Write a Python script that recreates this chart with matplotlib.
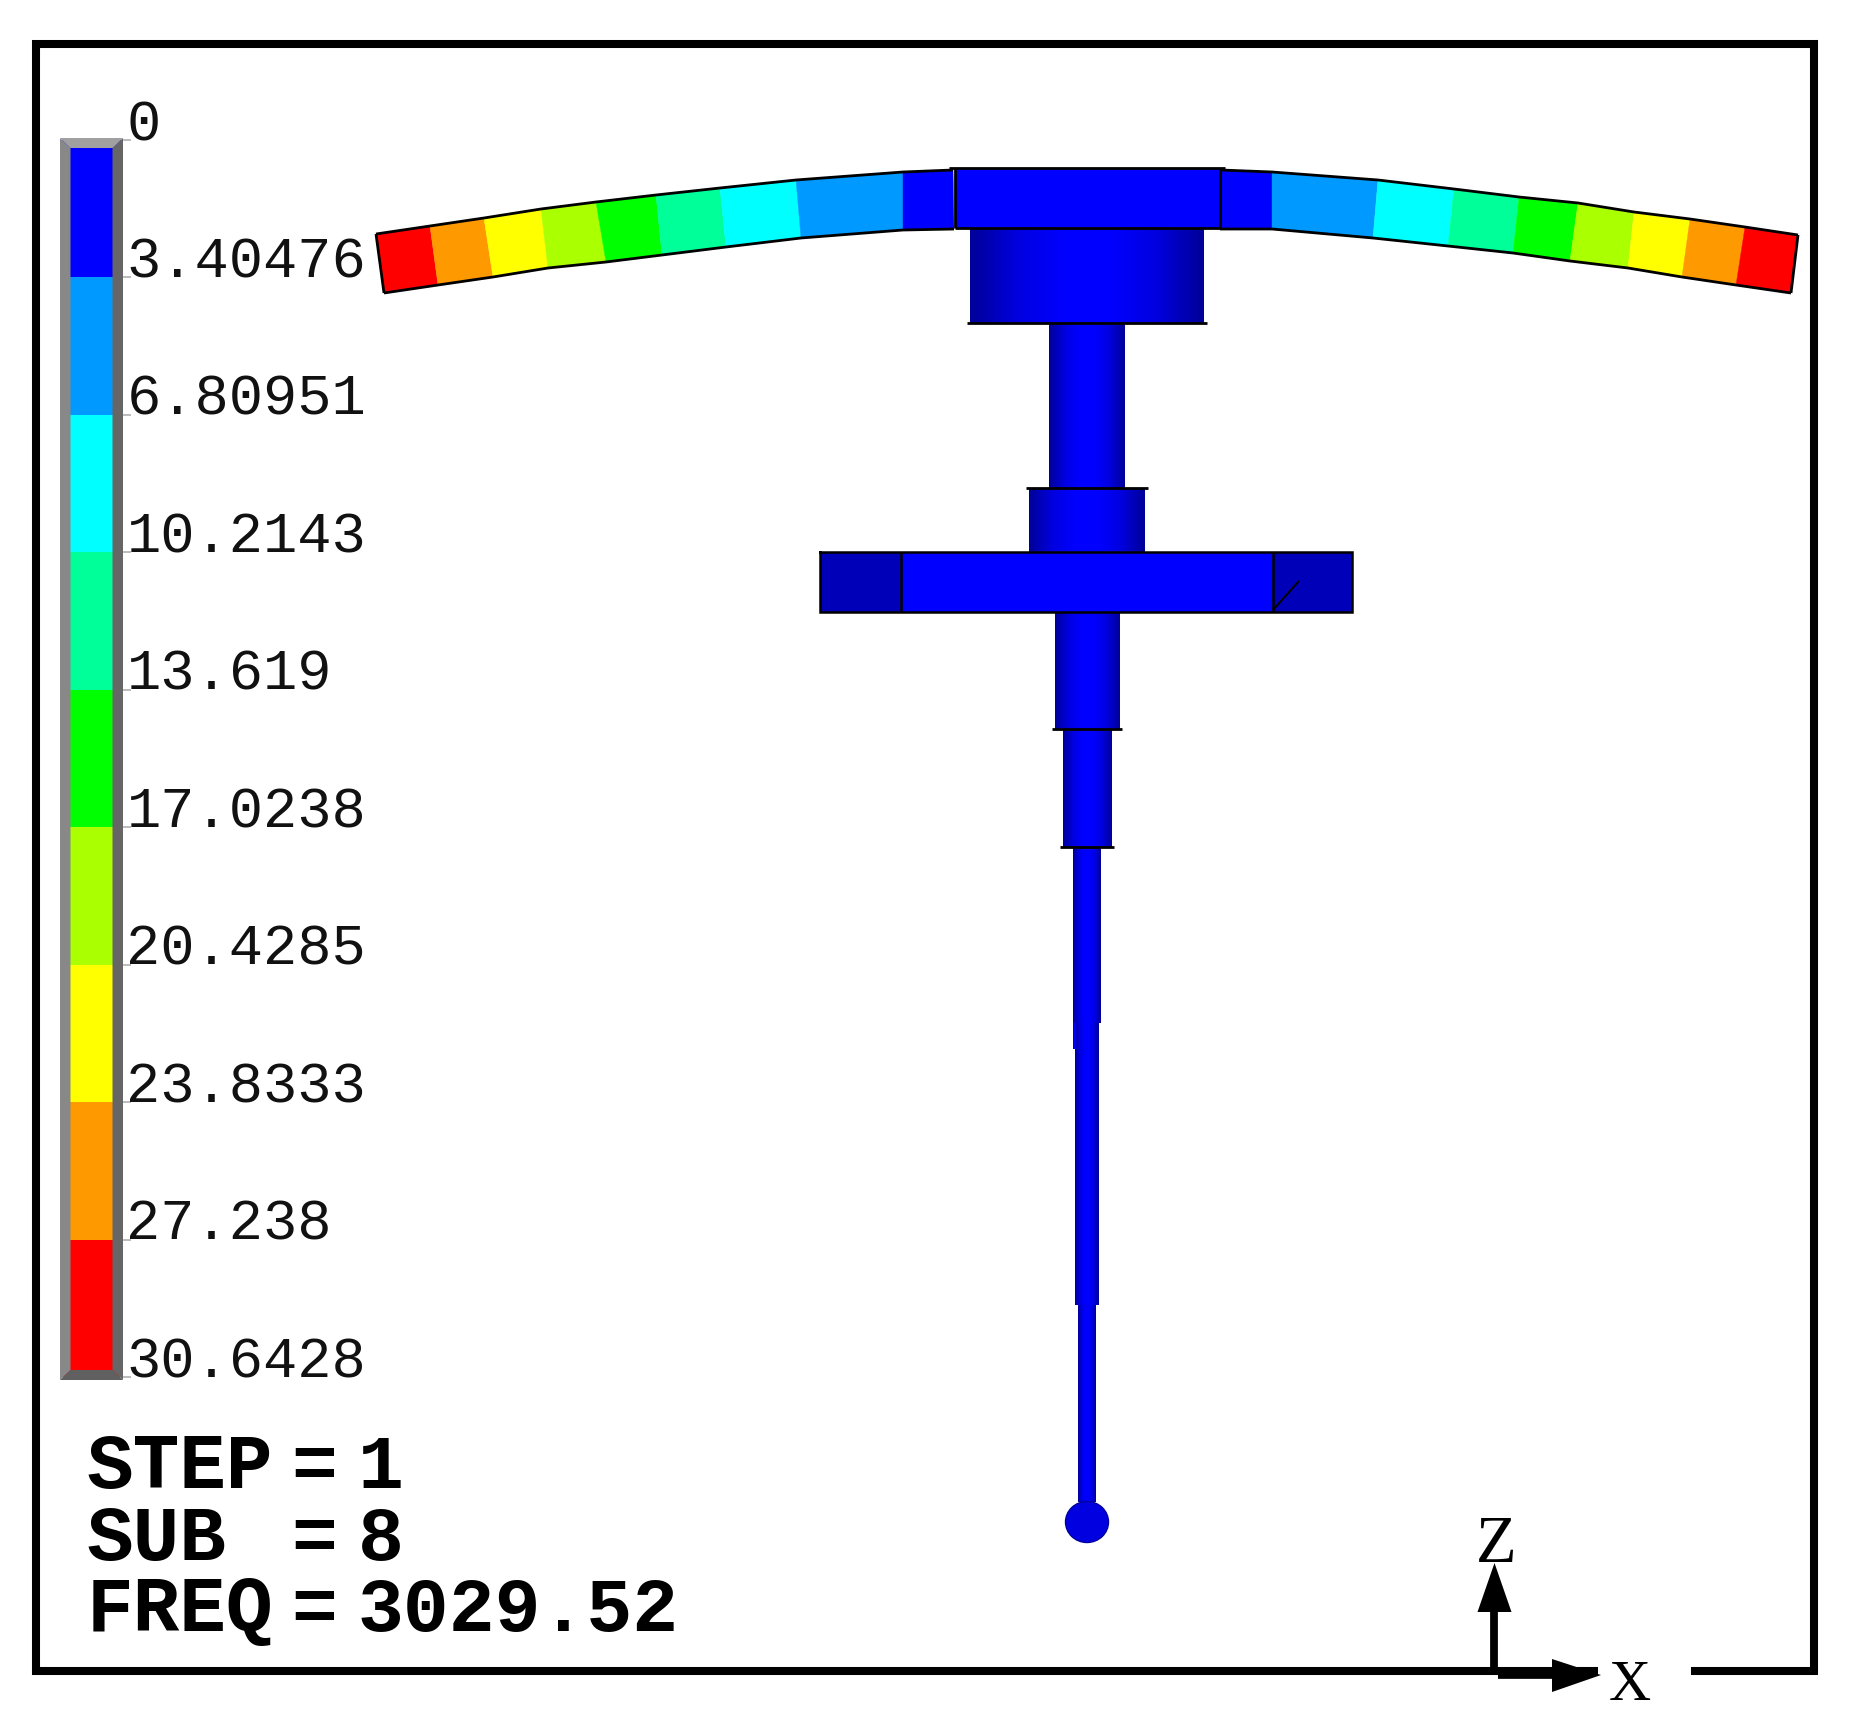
import numpy as np
import matplotlib
matplotlib.use("Agg")
import matplotlib.pyplot as plt
from matplotlib.colors import LinearSegmentedColormap
from matplotlib.patches import Polygon, Ellipse

W, H, DPI = 1856, 1736, 100

# ---- colour scale ----
levels = [0, 3.40476, 6.80951, 10.2143, 13.619, 17.0238, 20.4285, 23.8333, 27.238, 30.6428]
level_labels = ["0", "3.40476", "6.80951", "10.2143", "13.619", "17.0238",
                "20.4285", "23.8333", "27.238", "30.6428"]
band_colors = ["#0000ff", "#0099ff", "#00ffff", "#00ff99", "#00ff00",
               "#aaff00", "#ffff00", "#ff9900", "#ff0000"]

# ---- curved beam: band boundaries ----
left_top_x = [376, 430, 484, 541, 596, 656, 720, 796, 903, 953]
left_top_y = [234, 226, 218, 209, 202, 195, 188, 180, 172, 170]
left_bot_x = [384, 438, 493, 548, 606, 662, 726, 801, 903, 954]
left_bot_y = [293, 285, 277, 268, 262, 255, 247, 238, 230, 229]
left_bands = [8, 7, 6, 5, 4, 3, 2, 1, 0]

right_top_x = [1221, 1272, 1378, 1454, 1519, 1578, 1634, 1690, 1745, 1798]
right_top_y = [170, 172, 180, 189, 197, 203, 212, 219, 227, 235]
right_bot_x = [1220, 1272, 1373, 1448, 1513, 1570, 1628, 1682, 1736, 1791]
right_bot_y = [229, 229, 238, 246, 253, 261, 268, 277, 285, 293]
right_bands = [0, 1, 2, 3, 4, 5, 6, 7, 8]

# ---- stylus: x-left, x-right, y-top, y-bottom of each stepped cylinder ----
cyl_names = ["boss", "shaft_a", "collar", "shaft_b", "shaft_c", "stem_b", "stem_a", "stem_a_sliver", "stem_c"]
cyl_x0 = [970, 1049, 1029, 1055, 1063, 1075, 1073, 1073, 1078]
cyl_x1 = [1204, 1125, 1145, 1120, 1112, 1099, 1101, 1077, 1096]
cyl_y0 = [228, 323, 488, 613, 729, 1020, 847, 1023, 1305]
cyl_y1 = [323, 488, 552, 729, 847, 1305, 1023, 1049, 1502]

lip_x0 = [967, 1026, 1052, 1060]
lip_x1 = [1207, 1148, 1122, 1114]
lip_y = [323, 488, 729, 847]

ball_x, ball_y, ball_w, ball_h = 1087, 1522, 43, 41

# ---- annotation ----
info_names = ["STEP", "SUB", "FREQ"]
info_values = ["1", "8", "3029.52"]
info_base = [1488, 1560, 1631]

plt.rcParams["font.family"] = ["Liberation Mono", "DejaVu Sans Mono"]
fig = plt.figure(figsize=(W / DPI, H / DPI), dpi=DPI, facecolor="white")


def px_axes(x0, y0, x1, y1):
    return [x0 / W, 1 - y1 / H, (x1 - x0) / W, (y1 - y0) / H]


# colour bar on its own value scale
cb_top, cb_bot = 140, 1377
cax = fig.add_axes(px_axes(60, cb_top, 123, cb_bot), zorder=1)
cax.set_xlim(60, 123)
cax.set_ylim(levels[-1], levels[0])
for i, c in enumerate(band_colors):
    cax.bar(91.5, levels[i + 1] - levels[i], bottom=levels[i], width=63, color=c, linewidth=0)
cax.set_xticks([])
cax.yaxis.tick_right()
cax.set_yticks(levels)
cax.set_yticklabels(level_labels)
cax.tick_params(axis="y", length=6, width=1.2, color="#b0b0b0", pad=-3.5, labelsize=41, labelcolor="#111111")
for lab in cax.get_yticklabels():
    lab.set_verticalalignment("baseline")
for s in cax.spines.values():
    s.set_visible(False)

# main drawing surface in picture coordinates
ax = fig.add_axes([0, 0, 1, 1], zorder=2)
ax.set_xlim(0, W)
ax.set_ylim(H, 0)
ax.axis("off")
ax.patch.set_alpha(0)

# bevel of the colour bar
ox0, ox1, oy0, oy1 = 60, 123, 138, 1380
ix0, ix1, iy0, iy1 = 70.5, 112.5, 148, 1370
ax.add_patch(Polygon([(ox0, oy0), (ix0, iy0), (ix0, iy1), (ox0, oy1)], fc="#888888", ec="none"))
ax.add_patch(Polygon([(ox1, oy0), (ix1, iy0), (ix1, iy1), (ox1, oy1)], fc="#666666", ec="none"))
ax.add_patch(Polygon([(ox0, oy0), (ox1, oy0), (ix1, iy0), (ix0, iy0)], fc="#a0a0a0", ec="none"))
ax.add_patch(Polygon([(ox0, oy1), (ox1, oy1), (ix1, iy1), (ix0, iy1)], fc="#606060", ec="none"))


def edge(xs, ys, lw=2.0, z=4):
    ax.plot(xs, ys, color="black", lw=lw, solid_capstyle="butt", zorder=z)


def draw_beam(tx, ty, bx, by, bands):
    for i, b in enumerate(bands):
        ax.add_patch(Polygon([(tx[i], ty[i]), (tx[i + 1], ty[i + 1]),
                              (bx[i + 1], by[i + 1]), (bx[i], by[i])],
                             fc=band_colors[b], ec=band_colors[b], lw=0.3, zorder=2))
    edge(tx, ty, z=3)
    edge(bx, by, z=3)


draw_beam(left_top_x, left_top_y, left_bot_x, left_bot_y, left_bands)
draw_beam(right_top_x, right_top_y, right_bot_x, right_bot_y, right_bands)
edge([left_top_x[0], left_bot_x[0]], [left_top_y[0], left_bot_y[0]], z=3)
edge([right_top_x[-1], right_bot_x[-1]], [right_top_y[-1], right_bot_y[-1]], z=3)

# cylinders with a dark-to-bright-to-dark shading
shade = LinearSegmentedColormap.from_list("shade", ["#00009a", "#0000e0", "#0000ff", "#0000ff", "#0000e0", "#00009a"])
ramp = np.linspace(0, 1, 64).reshape(1, -1)
for x0, x1, y0, y1 in zip(cyl_x0, cyl_x1, cyl_y0, cyl_y1):
    ax.imshow(ramp, cmap=shade, extent=(x0, x1, y1, y0), aspect="auto", zorder=2.5, interpolation="bilinear")
ax.set_xlim(0, W)
ax.set_ylim(H, 0)

for x0, x1, y in zip(lip_x0, lip_x1, lip_y):
    edge([x0, x1], [y, y])

# hub plate over the beam ends
ax.add_patch(Polygon([(955, 168), (1220, 168), (1220, 228), (955, 228)], fc="#0000ff", ec="none", zorder=3.2))
edge([949, 1225], [168, 168])
edge([955, 1220], [228, 228])
edge([955, 955], [168, 228])
edge([1220, 1220], [168, 228])

# flange
ax.add_patch(Polygon([(820, 552), (901, 552), (901, 612), (820, 612)], fc="#0000b8", ec="none", zorder=3))
ax.add_patch(Polygon([(1273, 552), (1352, 552), (1352, 612), (1273, 612)], fc="#0000b8", ec="none", zorder=3))
ax.add_patch(Polygon([(901, 552), (1273, 552), (1273, 612), (901, 612)], fc="#0000ff", ec="none", zorder=3))
ax.plot([820, 1352, 1352, 820, 820], [552, 552, 612, 612, 552], color="black", lw=1.8,
        solid_joinstyle="miter", zorder=4)
edge([901, 901], [552, 612], lw=1.8)
edge([1273, 1273], [552, 612], lw=1.8)
edge([1273, 1299], [610, 581], lw=1.4)

# probe tip
ax.add_patch(Ellipse((ball_x, ball_y), ball_w, ball_h, fc="#0000e0", ec="#0000a0", lw=1, zorder=3))

# frame with a gap for the X label
ax.plot([1691, 1814.5, 1814.5, 36, 36, 1598], [1671, 1671, 44, 44, 1671, 1671],
        color="black", lw=5.8, solid_joinstyle="miter", solid_capstyle="butt", zorder=5)

# triad
ax.plot([1494.5, 1494.5], [1671, 1610], color="black", lw=5.6, solid_capstyle="butt", zorder=6)
ax.add_patch(Polygon([(1494.5, 1563), (1477.5, 1612), (1511.5, 1612)], fc="black", ec="none", zorder=6))
ax.plot([1498, 1555], [1674, 1674], color="black", lw=7, solid_capstyle="butt", zorder=6)
ax.add_patch(Polygon([(1601, 1675), (1552, 1659), (1552, 1692)], fc="black", ec="none", zorder=6))
ax.text(1496, 1562, "Z", family="Liberation Serif", fontsize=48, ha="center", va="baseline", color="black", zorder=6)
ax.text(1630, 1700, "X", family="Liberation Serif", fontsize=42, ha="center", va="baseline", color="black", zorder=6)

# step information
for name, val, base in zip(info_names, info_values, info_base):
    ax.text(87, base, name, fontsize=56, fontweight="bold", ha="left", va="baseline", color="black")
    ax.text(314, base, "=", fontsize=55, fontweight="bold", ha="center", va="baseline", color="black")
    ax.text(358, base, val, fontsize=55, fontweight="bold", ha="left", va="baseline", color="black")

fig.savefig("out.png", dpi=DPI, facecolor="white")
